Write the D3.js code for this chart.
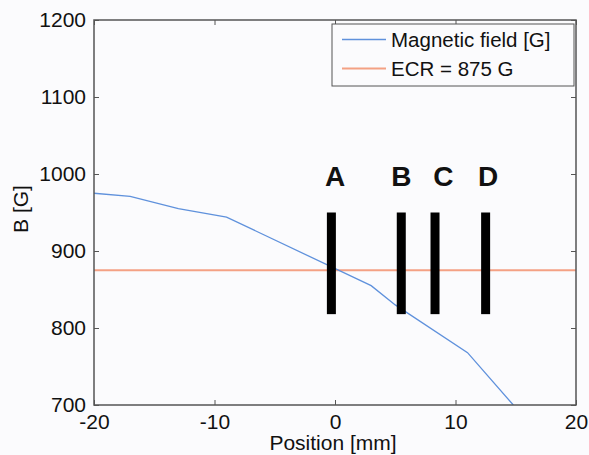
<!DOCTYPE html>
<html>
<head>
<meta charset="utf-8">
<script src="https://cdn.jsdelivr.net/npm/d3@7"></script>
<style>
  body { margin: 0; background: #fff; }
  text { font-family: "Liberation Sans", Arial, sans-serif; fill: #111; }
</style>
</head>
<body>
<div class="chart"></div>
<script>
// field profile
var posMm = [-20, -17, -13, -9, 3, 5, 11, 14.8]
var fieldG = [975, 971, 955, 944, 855, 830, 768, 700]
var ecrG = 875

// probe positions (A..D)
var probeNames = ['A', 'B', 'C', 'D']
var probePos = [-0.3, 5.5, 8.3, 12.5]
var probeLabelPos = [0, 5.5, 9, 12.7]
var probeRange = [818, 950]
var probeLabelB = 985

var xTicks = [-20, -10, 0, 10, 20]
var yTicks = [700, 800, 900, 1000, 1100, 1200]

var W = 589, H = 455
var mLeft = 94, mRight = 576, mTop = 20, mBottom = 405

var svg = d3.select('.chart').append('svg').attr('width', W).attr('height', H)
svg.append('rect').attr('width', W).attr('height', H).attr('fill', '#fbfbfd')

var x = d3.scaleLinear().domain([-20, 20]).range([mLeft, mRight])
var y = d3.scaleLinear().domain([700, 1200]).range([mBottom, mTop])

svg.append('defs').append('clipPath').attr('id', 'clip')
   .append('rect').attr('x', mLeft).attr('y', mTop).attr('width', mRight - mLeft).attr('height', mBottom - mTop)

var plot = svg.append('g').attr('clip-path', 'url(#clip)')

// ECR line
plot.append('line')
    .attr('x1', x(-20)).attr('x2', x(20))
    .attr('y1', y(ecrG)).attr('y2', y(ecrG))
    .attr('stroke', '#f4a184').attr('stroke-width', 2)

// field curve
var line = d3.line().x(function(d, i) { return x(posMm[i]) }).y(function(d) { return y(d) })
plot.append('path').datum(fieldG)
    .attr('d', line)
    .attr('fill', 'none')
    .attr('stroke', '#5f91dc')
    .attr('stroke-width', 1.3)

// probe bars
plot.selectAll('rect.probe').data(probePos).enter()
    .append('rect').attr('class', 'probe')
    .attr('x', function(d) { return x(d) - 4.5 })
    .attr('width', 9)
    .attr('y', y(probeRange[1]))
    .attr('height', y(probeRange[0]) - y(probeRange[1]))
    .attr('fill', '#000')

svg.selectAll('text.probe').data(probeNames).enter()
    .append('text').attr('class', 'probe')
    .attr('x', function(d, i) { return x(probeLabelPos[i]) })
    .attr('y', y(probeLabelB))
    .attr('text-anchor', 'middle')
    .style('font-size', '28px').style('font-weight', 'bold')
    .text(function(d) { return d })

// axes, matlab-style box with inner ticks on every side
var axisCol = '#555'
var fmt = function(d) { return String(d) }
function styleAxis(g) {
    g.select('.domain').remove()
    g.selectAll('line').attr('stroke', axisCol).attr('stroke-width', 1)
    g.selectAll('text').style('font-size', '21px').attr('fill', '#111')
}
svg.append('g').attr('transform', 'translate(0,' + mBottom + ')')
   .call(d3.axisBottom(x).tickValues(xTicks).tickSize(-5).tickPadding(9).tickFormat(fmt))
   .call(styleAxis)
svg.append('g').attr('transform', 'translate(' + mLeft + ',0)')
   .call(d3.axisLeft(y).tickValues(yTicks).tickSize(-5).tickPadding(8).tickFormat(fmt))
   .call(styleAxis)
svg.append('g').attr('transform', 'translate(0,' + mTop + ')')
   .call(d3.axisTop(x).tickValues(xTicks).tickSize(-5).tickFormat(''))
   .call(styleAxis)
svg.append('g').attr('transform', 'translate(' + mRight + ',0)')
   .call(d3.axisRight(y).tickValues(yTicks).tickSize(-5).tickFormat(''))
   .call(styleAxis)

svg.append('rect').attr('x', mLeft).attr('y', mTop)
   .attr('width', mRight - mLeft).attr('height', mBottom - mTop)
   .attr('fill', 'none').attr('stroke', axisCol).attr('stroke-width', 1.5)

// axis titles
svg.append('text').attr('x', (mLeft + mRight) / 2 - 2).attr('y', 450)
   .attr('text-anchor', 'middle').style('font-size', '21px').text('Position [mm]')
svg.append('text').attr('transform', 'translate(28,' + 209 + ') rotate(-90)')
   .attr('text-anchor', 'middle').style('font-size', '21px').text('B [G]')

// legend
var leg = svg.append('g')
leg.append('rect').attr('x', 332).attr('y', 24).attr('width', 242).attr('height', 62)
   .attr('fill', '#fbfbfd').attr('stroke', axisCol).attr('stroke-width', 1)
var legItems = ['Magnetic field [G]', 'ECR = 875 G']
var legCols = ['#5f91dc', '#f4a184']
legItems.forEach(function(t, i) {
    var ly = 39.5 + i * 29
    leg.append('line').attr('x1', 342).attr('x2', 386).attr('y1', ly).attr('y2', ly)
       .attr('stroke', legCols[i]).attr('stroke-width', i == 0 ? 1.3 : 2)
    leg.append('text').attr('x', 391).attr('y', ly + 7).style('font-size', '20.5px').text(t)
})
</script>
</body>
</html>
